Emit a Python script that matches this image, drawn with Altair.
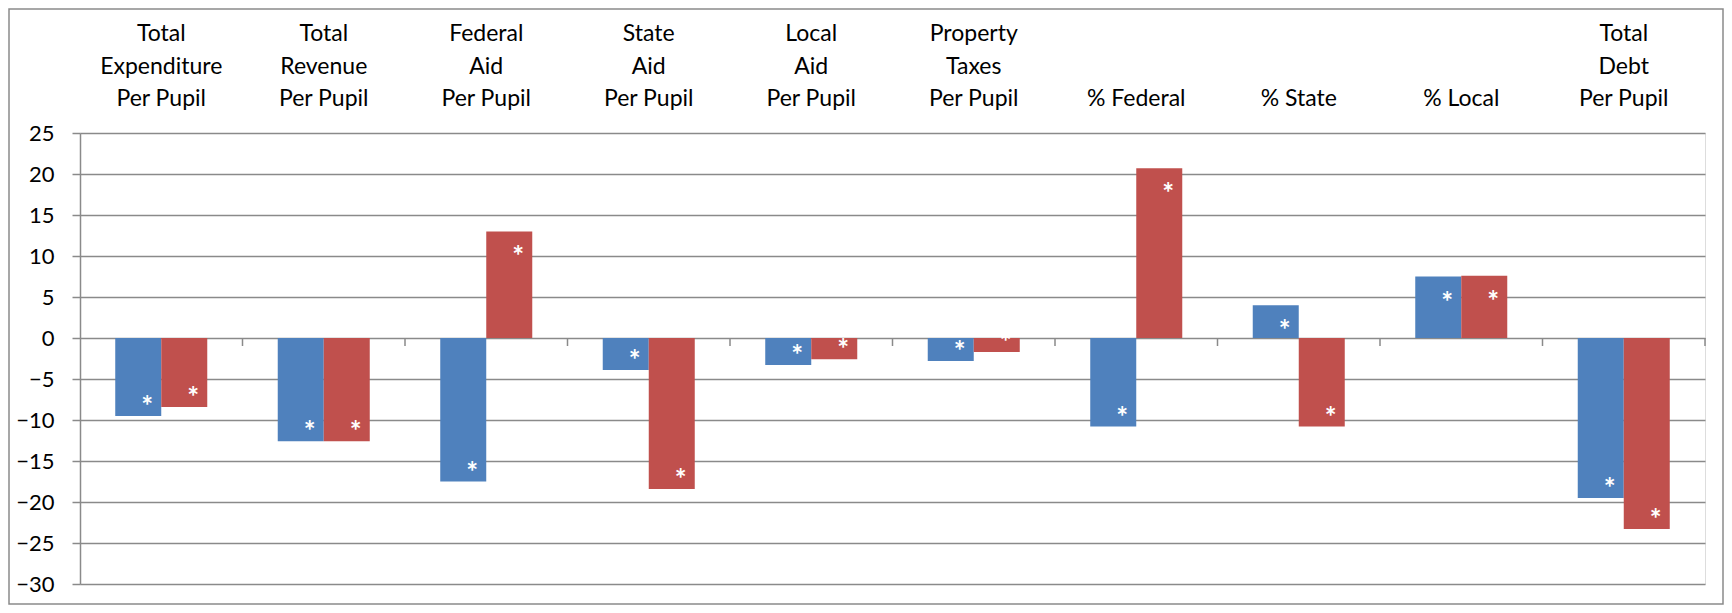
import altair as alt
import pandas as pd

categories = [
    "Total Expenditure Per Pupil",
    "Total Revenue Per Pupil",
    "Federal Aid Per Pupil",
    "State Aid Per Pupil",
    "Local Aid Per Pupil",
    "Property Taxes Per Pupil",
    "% Federal",
    "% State",
    "% Local",
    "Total Debt Per Pupil",
]
label_line1 = ["Total", "Total", "Federal", "State", "Local", "Property", "", "", "", "Total"]
label_line2 = ["Expenditure", "Revenue", "Aid", "Aid", "Aid", "Taxes", "", "", "", "Debt"]
label_line3 = ["Per Pupil", "Per Pupil", "Per Pupil", "Per Pupil", "Per Pupil", "Per Pupil",
               "% Federal", "% State", "% Local", "Per Pupil"]
series_names = ["Series 1", "Series 2"]
series1 = [-9.5, -12.6, -17.5, -3.9, -3.3, -2.8, -10.8, 4.0, 7.5, -19.5]
series2 = [-8.4, -12.6, 13.0, -18.4, -2.6, -1.7, 20.7, -10.8, 7.6, -23.3]
star_text = "*"

rows = []
for i, c in enumerate(categories):
    rows.append({"cat": c, "series": series_names[0], "value": series1[i]})
    rows.append({"cat": c, "series": series_names[1], "value": series2[i]})
df = pd.DataFrame(rows)

lab_df = pd.DataFrame({"cat": categories, "l1": label_line1, "l2": label_line2, "l3": label_line3})

FONT = "Lato"
GRID = "#8a8a8a"
W, H = 1625, 451

xscale = alt.Scale(domain=categories, paddingInner=0, paddingOuter=0)
yscale = alt.Scale(domain=[-30, 25], nice=False, zero=False)
xoff = alt.XOffset("series:N", scale=alt.Scale(domain=series_names, paddingOuter=0.766, paddingInner=0))
color = alt.Color("series:N", scale=alt.Scale(domain=series_names, range=["#4F81BD", "#C0504D"]), legend=None)
X = alt.X("cat:N", scale=xscale, sort=categories, axis=None)

base = alt.Chart(df)

bars = base.mark_bar(size=46).encode(
    x=X,
    xOffset=xoff,
    y=alt.Y("value:Q", scale=yscale,
            axis=alt.Axis(title=None, values=list(range(-30, 30, 5)), tickSize=8, tickColor=GRID,
                          tickWidth=1.5, domainColor=GRID, domainWidth=1.5, gridColor=GRID, gridWidth=1.5,
                          labelFont=FONT, labelFontSize=22, labelColor="#000000", labelPadding=18)),
    y2=alt.datum(0),
    color=color,
)

stars_neg = base.transform_filter("datum.value < 0").mark_text(
    font=FONT, fontSize=28, fontWeight="bold", color="white", baseline="alphabetic", dx=9, dy=0
).encode(x=X, xOffset=xoff, y=alt.Y("value:Q", scale=yscale), text=alt.value(star_text))
stars_pos = base.transform_filter("datum.value >= 0").mark_text(
    font=FONT, fontSize=28, fontWeight="bold", color="white", baseline="alphabetic", dx=9, dy=35
).encode(x=X, xOffset=xoff, y=alt.Y("value:Q", scale=yscale), text=alt.value(star_text))

labs = alt.Chart(lab_df)
lab_style = dict(font=FONT, fontSize=23, color="#000000", baseline="middle", align="center", clip=False)
lab1 = labs.mark_text(**lab_style).encode(x=X, y=alt.value(-99), text="l1:N")
lab2 = labs.mark_text(**lab_style).encode(x=X, y=alt.value(-66.5), text="l2:N")
lab3 = labs.mark_text(**lab_style).encode(x=X, y=alt.value(-34), text="l3:N")

cat_ticks = labs.mark_rule(color=GRID, strokeWidth=1.5, y2Offset=8).encode(
    x=alt.X("cat:N", scale=xscale, sort=categories, bandPosition=1, axis=None),
    y=alt.datum(0),
    y2=alt.datum(0),
)

frame = alt.Chart(pd.DataFrame({"a": [0]})).mark_rect(
    filled=False, stroke=GRID, strokeWidth=1.5, clip=False
).encode(
    x=alt.value(-71), x2=alt.value(W + 18), y=alt.value(-124), y2=alt.value(H + 20)
)

chart = alt.layer(bars, stars_neg, stars_pos, lab1, lab2, lab3, cat_ticks, frame).properties(
    width=W, height=H,
    autosize=alt.AutoSizeParams(type="none"),
    padding={"left": 72, "top": 125, "right": 19, "bottom": 21},
).configure_view(stroke=None).configure(background="white")

chart.save("out.html", embed_options={"renderer": "svg", "actions": False})
